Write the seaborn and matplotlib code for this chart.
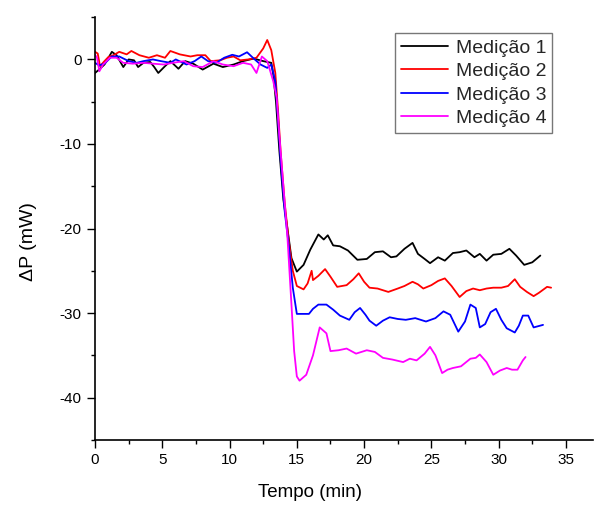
import matplotlib
matplotlib.use("Agg")
import matplotlib.pyplot as plt
from matplotlib.ticker import MultipleLocator
import numpy as np
import pandas as pd
import seaborn as sns

# ---------------------------------------------------------------------------
# Data (time in min, power difference in mW)
# ---------------------------------------------------------------------------
t1 = [0, 0.3, 0.7, 1.0, 1.25, 1.6, 2.1, 2.5, 2.9, 3.2, 3.6, 4.1, 4.4, 4.7, 5.2,
      5.6, 6.2, 6.7, 7.3, 8.0, 8.8, 9.5, 10.3, 11.0, 11.8, 12.5, 13.1, 13.25,
      13.45, 13.7, 14.0, 14.3, 14.6, 15.0, 15.5, 16.0, 16.6, 17.0, 17.3, 17.7,
      18.2, 18.8, 19.5, 20.2, 20.8, 21.4, 22.0, 22.4, 23.0, 23.6, 24.0, 24.5,
      24.9, 25.5, 26.0, 26.6, 27.1, 27.6, 28.2, 28.6, 29.1, 29.6, 30.2, 30.8,
      31.3, 31.9, 32.5, 33.1]
p1 = [-1.6, -1.2, -0.6, 0.2, 0.9, 0.5, -0.9, 0.0, -0.1, -0.9, -0.4, -0.3, -0.9,
      -1.6, -0.8, -0.2, -1.1, -0.2, -0.5, -1.2, -0.5, -0.9, -0.6, -0.2, 0.1,
      -0.2, -0.4, -1.8, -5.0, -10.8, -16.6, -20.0, -23.5, -25.1, -24.3, -22.5,
      -20.7, -21.3, -20.8, -22.0, -22.1, -22.6, -23.7, -23.6, -22.8, -22.7,
      -23.4, -23.3, -22.4, -21.7, -23.0, -23.6, -24.1, -23.4, -23.8, -22.9,
      -22.8, -22.6, -23.4, -23.0, -23.8, -23.1, -23.0, -22.4, -23.2, -24.3,
      -24.0, -23.2]

t2 = [0, 0.2, 0.37, 0.7, 1.0, 1.36, 1.8, 2.35, 2.7, 3.3, 4.0, 4.6, 5.2, 5.6,
      6.3, 7.1, 7.6, 8.2, 8.6, 9.3, 9.8, 10.3, 10.8, 11.4, 12.0, 12.5, 12.8,
      13.1, 13.4, 13.6, 13.8, 14.1, 14.4, 14.7, 15.0, 15.5, 15.8, 16.1, 16.2,
      16.6, 17.1, 17.5, 18.0, 18.7, 19.2, 19.6, 20.0, 20.4, 21.0, 21.8, 22.5,
      23.0, 23.6, 24.0, 24.4, 25.0, 25.5, 26.0, 26.5, 27.1, 27.6, 28.1, 28.6,
      29.1, 29.6, 30.2, 30.7, 31.2, 31.6, 32.1, 32.6, 33.0, 33.6, 33.9]
p2 = [0.9, 0.7, -0.8, -0.2, 0.3, 0.5, 0.9, 0.6, 1.0, 0.5, 0.2, 0.5, 0.2, 1.0,
      0.6, 0.35, 0.5, 0.5, -0.2, -0.1, 0.2, 0.35, -0.1, 0.0, 0.2, 1.3, 2.3,
      1.1, -1.6, -6.0, -11.0, -17.0, -21.5, -25.0, -26.8, -27.2, -26.5, -25.0,
      -26.1, -25.6, -24.8, -25.7, -26.9, -26.7, -26.0, -25.3, -26.3, -27.0,
      -27.1, -27.5, -27.1, -26.8, -26.3, -26.6, -27.1, -26.7, -26.2, -25.9,
      -26.8, -28.1, -27.4, -27.1, -27.3, -27.1, -27.0, -27.0, -26.8, -26.0,
      -26.9, -27.5, -28.0, -27.6, -26.9, -27.0]

t3 = [0, 0.3, 0.7, 1.24, 1.8, 2.5, 3.1, 3.6, 4.3, 4.9, 5.6, 6.0, 6.8, 7.4,
      7.9, 8.4, 9.0, 9.6, 10.2, 10.7, 11.3, 11.8, 12.3, 12.8, 13.1, 13.4,
      13.6, 13.8, 14.1, 14.4, 14.7, 15.0, 15.9, 16.2, 16.6, 17.2, 17.7, 18.2,
      18.9, 19.3, 19.7, 20.1, 20.4, 20.9, 21.4, 21.9, 22.5, 23.1, 23.8, 24.6,
      25.3, 25.9, 26.4, 27.0, 27.5, 27.9, 28.3, 28.6, 29.0, 29.4, 29.8, 30.2,
      30.6, 31.2, 31.5, 31.8, 32.2, 32.6, 33.3]
p3 = [-0.4, -0.7, -0.5, 0.35, 0.35, -0.2, -0.4, -0.2, 0.0, -0.2, -0.4, 0.0,
      -0.6, -0.2, 0.35, -0.2, -0.4, 0.2, 0.55, 0.35, 0.85, 0.1, -0.6, -1.0,
      -0.6, -2.6, -7.0, -12.0, -18.0, -22.0, -27.0, -30.1, -30.1, -29.5,
      -29.0, -29.0, -29.6, -30.3, -30.8, -29.9, -29.4, -30.2, -30.9, -31.5,
      -30.9, -30.5, -30.7, -30.8, -30.6, -31.0, -30.6, -29.8, -30.2, -32.2,
      -31.0, -29.0, -29.4, -31.7, -31.3, -29.9, -29.5, -30.8, -31.8, -32.3,
      -31.5, -30.3, -30.3, -31.7, -31.4]

t4 = [0, 0.15, 0.32, 0.6, 1.1, 1.6, 2.1, 2.8, 3.6, 4.3, 5.1, 5.8, 6.6, 7.3,
      8.0, 8.8, 9.5, 10.3, 11.0, 11.6, 12.0, 12.4, 12.8, 13.25, 13.5, 13.7,
      14.0, 14.3, 14.6, 14.8, 15.0, 15.2, 15.7, 16.2, 16.7, 17.2, 17.5, 18.1,
      18.7, 19.4, 20.2, 20.8, 21.4, 22.1, 22.9, 23.4, 23.9, 24.5, 24.9, 25.3,
      25.8, 26.2, 26.6, 27.2, 27.9, 28.3, 28.6, 29.1, 29.6, 30.1, 30.6, 31.0,
      31.4, 31.8, 32.0]
p4 = [0.55, 0.2, -1.4, -0.6, 0.2, 0.2, -0.4, -0.5, -0.4, -0.5, -0.6, -0.4,
      -0.2, -0.8, -0.9, -0.2, -0.6, -0.8, -0.4, -0.6, -1.6, 0.35, -0.2, -2.6,
      -4.5, -9.0, -15.0, -21.0, -29.0, -34.5, -37.5, -38.0, -37.3, -35.0,
      -31.7, -32.4, -34.5, -34.4, -34.2, -34.8, -34.4, -34.6, -35.3, -35.5,
      -35.8, -35.4, -35.6, -34.8, -34.0, -35.0, -37.1, -36.7, -36.5, -36.3,
      -35.4, -35.3, -34.9, -35.8, -37.3, -36.8, -36.5, -36.7, -36.7, -35.6,
      -35.2]

series_names = ["Medição 1", "Medição 2", "Medição 3", "Medição 4"]
series_colors = ["black", "red", "blue", "magenta"]

# ---------------------------------------------------------------------------
# Long-format table for seaborn
# ---------------------------------------------------------------------------
frames = []
for name, t, p in zip(series_names, [t1, t2, t3, t4], [p1, p2, p3, p4]):
    frames.append(pd.DataFrame({"tempo": t, "dp": p, "serie": name}))
df = pd.concat(frames, ignore_index=True)

sns.set_style("white")
plt.rcParams["font.family"] = ["Liberation Sans", "DejaVu Sans"]
plt.rcParams["axes.unicode_minus"] = False

fig = plt.figure(figsize=(5.94, 5.05), dpi=100)
ax = fig.add_axes([0.16, 0.129, 0.838, 0.837])

sns.lineplot(data=df, x="tempo", y="dp", hue="serie",
             palette=dict(zip(series_names, series_colors)),
             estimator=None, sort=False, linewidth=1.3, ax=ax)

ax.set_xlim(0, 37)
ax.set_ylim(-45, 5)
ax.xaxis.set_major_locator(MultipleLocator(5))
ax.xaxis.set_minor_locator(MultipleLocator(2.5))
ax.yaxis.set_major_locator(MultipleLocator(10))
ax.yaxis.set_minor_locator(MultipleLocator(5))
ax.tick_params(which="major", direction="out", length=6, width=1,
               labelsize=11, bottom=True, left=True, color="black",
               labelcolor="black")
ax.tick_params(which="minor", direction="out", length=3, width=1,
               bottom=True, left=True, color="black")

for side in ["top", "right"]:
    ax.spines[side].set_visible(False)
for side in ["left", "bottom"]:
    ax.spines[side].set_color("black")
    ax.spines[side].set_linewidth(1.2)

ax.set_xlabel("Tempo (min)", fontsize=13.5, color="black", va="center")
ax.set_ylabel("ΔP (mW)", fontsize=14, color="black", va="center")
ax.xaxis.set_label_coords(0.431, -0.125)
ax.yaxis.set_label_coords(-0.134, 0.47)

leg = ax.legend(loc="upper right", bbox_to_anchor=(0.918, 0.962),
                fontsize=14, frameon=True, fancybox=False,
                handlelength=2.4, borderpad=0.3, labelspacing=0.3,
                handletextpad=0.4, borderaxespad=0.0)
leg.get_frame().set_edgecolor("#555555")
leg.get_frame().set_linewidth(1.0)

fig.savefig("out.png", dpi=100)
